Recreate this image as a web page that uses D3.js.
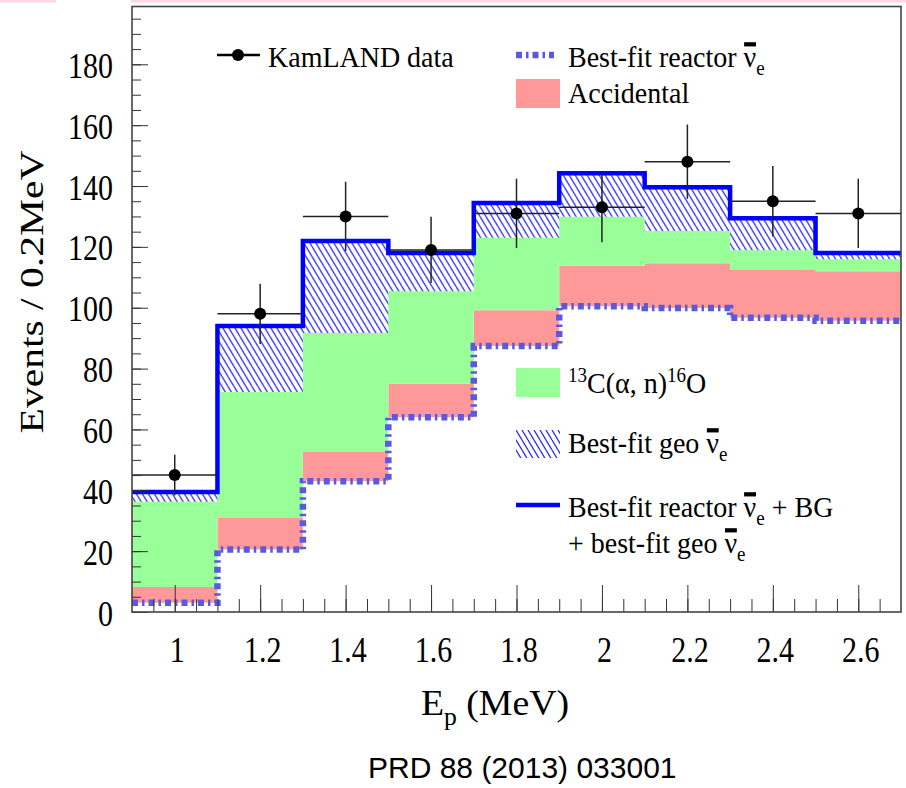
<!DOCTYPE html>
<html>
<head>
<meta charset="utf-8">
<script src="https://cdn.jsdelivr.net/npm/d3@7"></script>
<style>
  body { margin: 0; background: #fff; }
  svg text { font-family: "Liberation Serif", "Times New Roman", serif; fill: #000; }
  svg text.caption { font-family: "Liberation Sans", Arial, sans-serif; }
</style>
</head>
<body>
<svg id="chart" width="906" height="788"></svg>
<script>
// Bin edges / centres (MeV):
const binEdges = [0.9, 1.1, 1.3, 1.5, 1.7, 1.9, 2.1, 2.3, 2.5, 2.7];
const binCenters = [1.0, 1.2, 1.4, 1.6, 1.8, 2.0, 2.2, 2.4, 2.6];

// KamLAND data points and errors:
const dataCounts = [45, 98, 130, 119, 131, 133, 148, 135, 131];
const dataErrors = [6.7, 9.9, 11.4, 10.9, 11.4, 11.5, 12.2, 11.6, 11.4];

// Stacked components (events / 0.2 MeV), bottom to top:
const reactorFit = [3, 20.5, 43, 64, 87.4, 100.5, 99.9, 96.7, 95.7];
const accidental = [5.2, 10.4, 9.6, 11, 11.8, 13.3, 14.7, 15.7, 16.3];
const carbon13 = [28, 41.4, 39.1, 30.4, 23.8, 16.1, 10.6, 6.5, 3.9];
const geoFit = [3.2, 21.7, 30.2, 12.6, 11.4, 14.3, 14.4, 10.5, 2.1];

// Tick labels:
const xTickLabels = [1, 1.2, 1.4, 1.6, 1.8, 2, 2.2, 2.4, 2.6];
const yTickLabels = [0, 20, 40, 60, 80, 100, 120, 140, 160, 180];

const margin = {top: 6.5, right: 5, bottom: 176, left: 132},
    width = 906 - margin.left - margin.right,
    height = 788 - margin.top - margin.bottom;

const svg = d3.select("#chart");

// pink strip from the slide above the figure
svg.append("rect").attr("x", 0).attr("y", 0).attr("width", 56).attr("height", 2.5).attr("fill", "#fcd9e0");
svg.append("rect").attr("x", 131).attr("y", 0).attr("width", 775).attr("height", 2.5).attr("fill", "#fcd9e0");

// hatch pattern for geo neutrinos
const defs = svg.append("defs");
const hatch = defs.append("pattern")
    .attr("id", "hatch")
    .attr("patternUnits", "userSpaceOnUse")
    .attr("width", 6).attr("height", 10);
hatch.append("path")
    .attr("d", "M0,0L6,10M-6,0L0,10M6,0L12,10")
    .attr("stroke", "#2a2aff").attr("stroke-width", 1.3);

const g = svg.append("g")
    .attr("transform", "translate(" + margin.left + "," + margin.top + ")");

const x = d3.scaleLinear().domain([0.9, 2.7]).range([0, width]);
const y = d3.scaleLinear().domain([0, 199]).range([height, 0]);

// stack the components
const rows = binCenters.map((c, i) => ({
  reactor: reactorFit[i], accidental: accidental[i], carbon: carbon13[i], geo: geoFit[i]
}));
const series = d3.stack().keys(["reactor", "accidental", "carbon", "geo"])(rows);
const n = binCenters.length;
const stepPoints = s => binEdges.map((e, i) => ({x: e, v: s[Math.min(i, n - 1)]}));

const area = d3.area()
    .x(d => x(d.x))
    .y0(d => y(d.v[0]))
    .y1(d => y(d.v[1]))
    .curve(d3.curveStepAfter);
const topLine = d3.line()
    .x(d => x(d.x))
    .y(d => y(d.v[1]))
    .curve(d3.curveStepAfter);

const fills = {accidental: "#ff9999", carbon: "#99ff99", geo: "url(#hatch)"};
series.slice(1).forEach(s => {
  g.append("path").datum(stepPoints(s)).attr("d", area).attr("fill", fills[s.key]);
});

// reactor best fit (dashed)
const dashStyle = "6,4,2.5,4";
g.append("path").datum(stepPoints(series[0]))
    .attr("d", topLine)
    .attr("fill", "none")
    .attr("stroke", "#5a5ae0")
    .attr("stroke-width", 6.5)
    .attr("stroke-dasharray", dashStyle);

// total
g.append("path").datum(stepPoints(series[3]))
    .attr("d", topLine)
    .attr("fill", "none")
    .attr("stroke", "#0000ff")
    .attr("stroke-width", 4.5);

// data points with error bars
const pts = g.append("g").selectAll("g").data(binCenters).enter().append("g");
pts.append("line")
    .attr("x1", (d, i) => x(binEdges[i])).attr("x2", (d, i) => x(binEdges[i + 1]))
    .attr("y1", (d, i) => y(dataCounts[i])).attr("y2", (d, i) => y(dataCounts[i]))
    .attr("stroke", "#222").attr("stroke-width", 1.5);
pts.append("line")
    .attr("x1", d => x(d)).attr("x2", d => x(d))
    .attr("y1", (d, i) => y(dataCounts[i] - dataErrors[i]))
    .attr("y2", (d, i) => y(dataCounts[i] + dataErrors[i]))
    .attr("stroke", "#222").attr("stroke-width", 1.5);
pts.append("circle")
    .attr("cx", d => x(d)).attr("cy", (d, i) => y(dataCounts[i]))
    .attr("r", 6).attr("fill", "#000");

// axes: ticks pointing inward
const gyMinor = g.append("g").attr("color", "#333")
    .call(d3.axisLeft(y).tickValues(d3.range(0, 199, 5)).tickSizeInner(-9).tickSizeOuter(0).tickFormat(""));
gyMinor.select(".domain").remove();
const gy = g.append("g").attr("color", "#333")
    .call(d3.axisLeft(y).tickValues(yTickLabels).tickSizeInner(-16).tickSizeOuter(0));
gy.attr("font-size", 30).attr("font-family", null);
gy.select(".domain").remove();
gy.selectAll("text").attr("x", 0).attr("dy", null).attr("fill", "#000")
    .attr("transform", "translate(-19,13) scale(1,1.2)");

const gxMinor = g.append("g").attr("transform", "translate(0," + height + ")").attr("color", "#333")
    .call(d3.axisBottom(x).tickValues(d3.range(0.95, 2.7, 0.05)).tickSizeInner(-13).tickSizeOuter(0).tickFormat(""));
gxMinor.select(".domain").remove();
const gx = g.append("g").attr("transform", "translate(0," + height + ")").attr("color", "#333")
    .call(d3.axisBottom(x).tickValues(xTickLabels).tickSizeInner(-27).tickSizeOuter(0)
      .tickFormat(d => String(+d.toFixed(1))));
gx.attr("font-size", 30).attr("font-family", null);
gx.select(".domain").remove();
gx.selectAll("text").attr("y", 0).attr("dy", null).attr("fill", "#000")
    .attr("transform", "translate(2,50) scale(1,1.18)");

// frame
g.append("rect").attr("x", 0).attr("y", 0).attr("width", width).attr("height", height)
    .attr("fill", "none").attr("stroke", "#444").attr("stroke-width", 1.6);

// text with sub/superscripts and overlined nu
function richText(parent, px, py, parts, opt) {
  const size = opt.size;
  const tr = "translate(" + px + "," + py + ")" + (opt.rotate ? " rotate(" + opt.rotate + ")" : "") +
      " scale(" + (opt.sx || 1) + "," + (opt.sy || 1) + ")";
  const tg = parent.append("g").attr("transform", tr);
  const t = tg.append("text").attr("font-size", size).attr("text-anchor", opt.anchor || "start");
  if (opt.cls) t.attr("class", opt.cls);
  let shift = 0, idx = 0;
  const bars = [];
  parts.forEach(p => {
    const off = p.sub ? 0.28 * size : p.sup ? -0.38 * size : 0;
    const ts = t.append("tspan").text(p.t).attr("dy", off - shift);
    if (p.sub || p.sup) ts.attr("font-size", size * 0.68);
    shift = off;
    if (p.bar) bars.push(idx);
    idx += p.t.length;
  });
  bars.forEach(i => {
    const e = t.node().getExtentOfChar(i);
    tg.append("rect").attr("x", e.x + e.width * 0.04).attr("width", e.width * 0.94)
        .attr("y", -0.82 * size).attr("height", 0.14 * size).attr("fill", "#000");
  });
  return tg;
}

// axis titles
richText(svg, 43, 292, [{t: "Events / 0.2MeV"}], {size: 33, rotate: -90, sx: 1.26, anchor: "middle"});
richText(svg, 495, 715, [{t: "E"}, {t: "p", sub: true}, {t: " (MeV)"}], {size: 36, anchor: "middle", sx: 1.05});

// legend
const leg = svg.append("g");
const lsize = 28, lsy = 1.08;
leg.append("line").attr("x1", 217).attr("x2", 260).attr("y1", 55).attr("y2", 55)
    .attr("stroke", "#000").attr("stroke-width", 2.5);
leg.append("circle").attr("cx", 238).attr("cy", 55).attr("r", 6).attr("fill", "#000");
richText(leg, 268, 67, [{t: "KamLAND data"}], {size: lsize, sy: lsy});

leg.append("line").attr("x1", 516).attr("x2", 554).attr("y1", 55).attr("y2", 55)
    .attr("stroke", "#5a5ae0").attr("stroke-width", 6.5).attr("stroke-dasharray", dashStyle);
richText(leg, 568, 67, [{t: "Best-fit reactor "}, {t: "ν", bar: true}, {t: "e", sub: true}], {size: lsize, sy: lsy});

leg.append("rect").attr("x", 516).attr("y", 79).attr("width", 44).attr("height", 29).attr("fill", "#ff9999");
richText(leg, 568, 103, [{t: "Accidental"}], {size: lsize, sy: lsy});

leg.append("rect").attr("x", 516).attr("y", 368).attr("width", 44).attr("height", 29).attr("fill", "#99ff99");
richText(leg, 568, 393, [{t: "13", sup: true}, {t: "C(α, n)"}, {t: "16", sup: true}, {t: "O"}], {size: lsize, sy: lsy});

leg.append("rect").attr("x", 516).attr("y", 430).attr("width", 44).attr("height", 28).attr("fill", "url(#hatch)");
richText(leg, 568, 453, [{t: "Best-fit geo "}, {t: "ν", bar: true}, {t: "e", sub: true}], {size: lsize, sy: lsy});

leg.append("line").attr("x1", 516).attr("x2", 560).attr("y1", 505).attr("y2", 505)
    .attr("stroke", "#0000ff").attr("stroke-width", 4.5);
richText(leg, 568, 517, [{t: "Best-fit reactor "}, {t: "ν", bar: true}, {t: "e", sub: true}, {t: " + BG"}], {size: lsize, sy: lsy});
richText(leg, 568, 553, [{t: "+ best-fit geo "}, {t: "ν", bar: true}, {t: "e", sub: true}], {size: lsize, sy: lsy});

// caption
svg.append("text").attr("class", "caption").attr("x", 368).attr("y", 778)
    .attr("font-size", 30).text("PRD 88 (2013) 033001");
</script>
</body>
</html>
